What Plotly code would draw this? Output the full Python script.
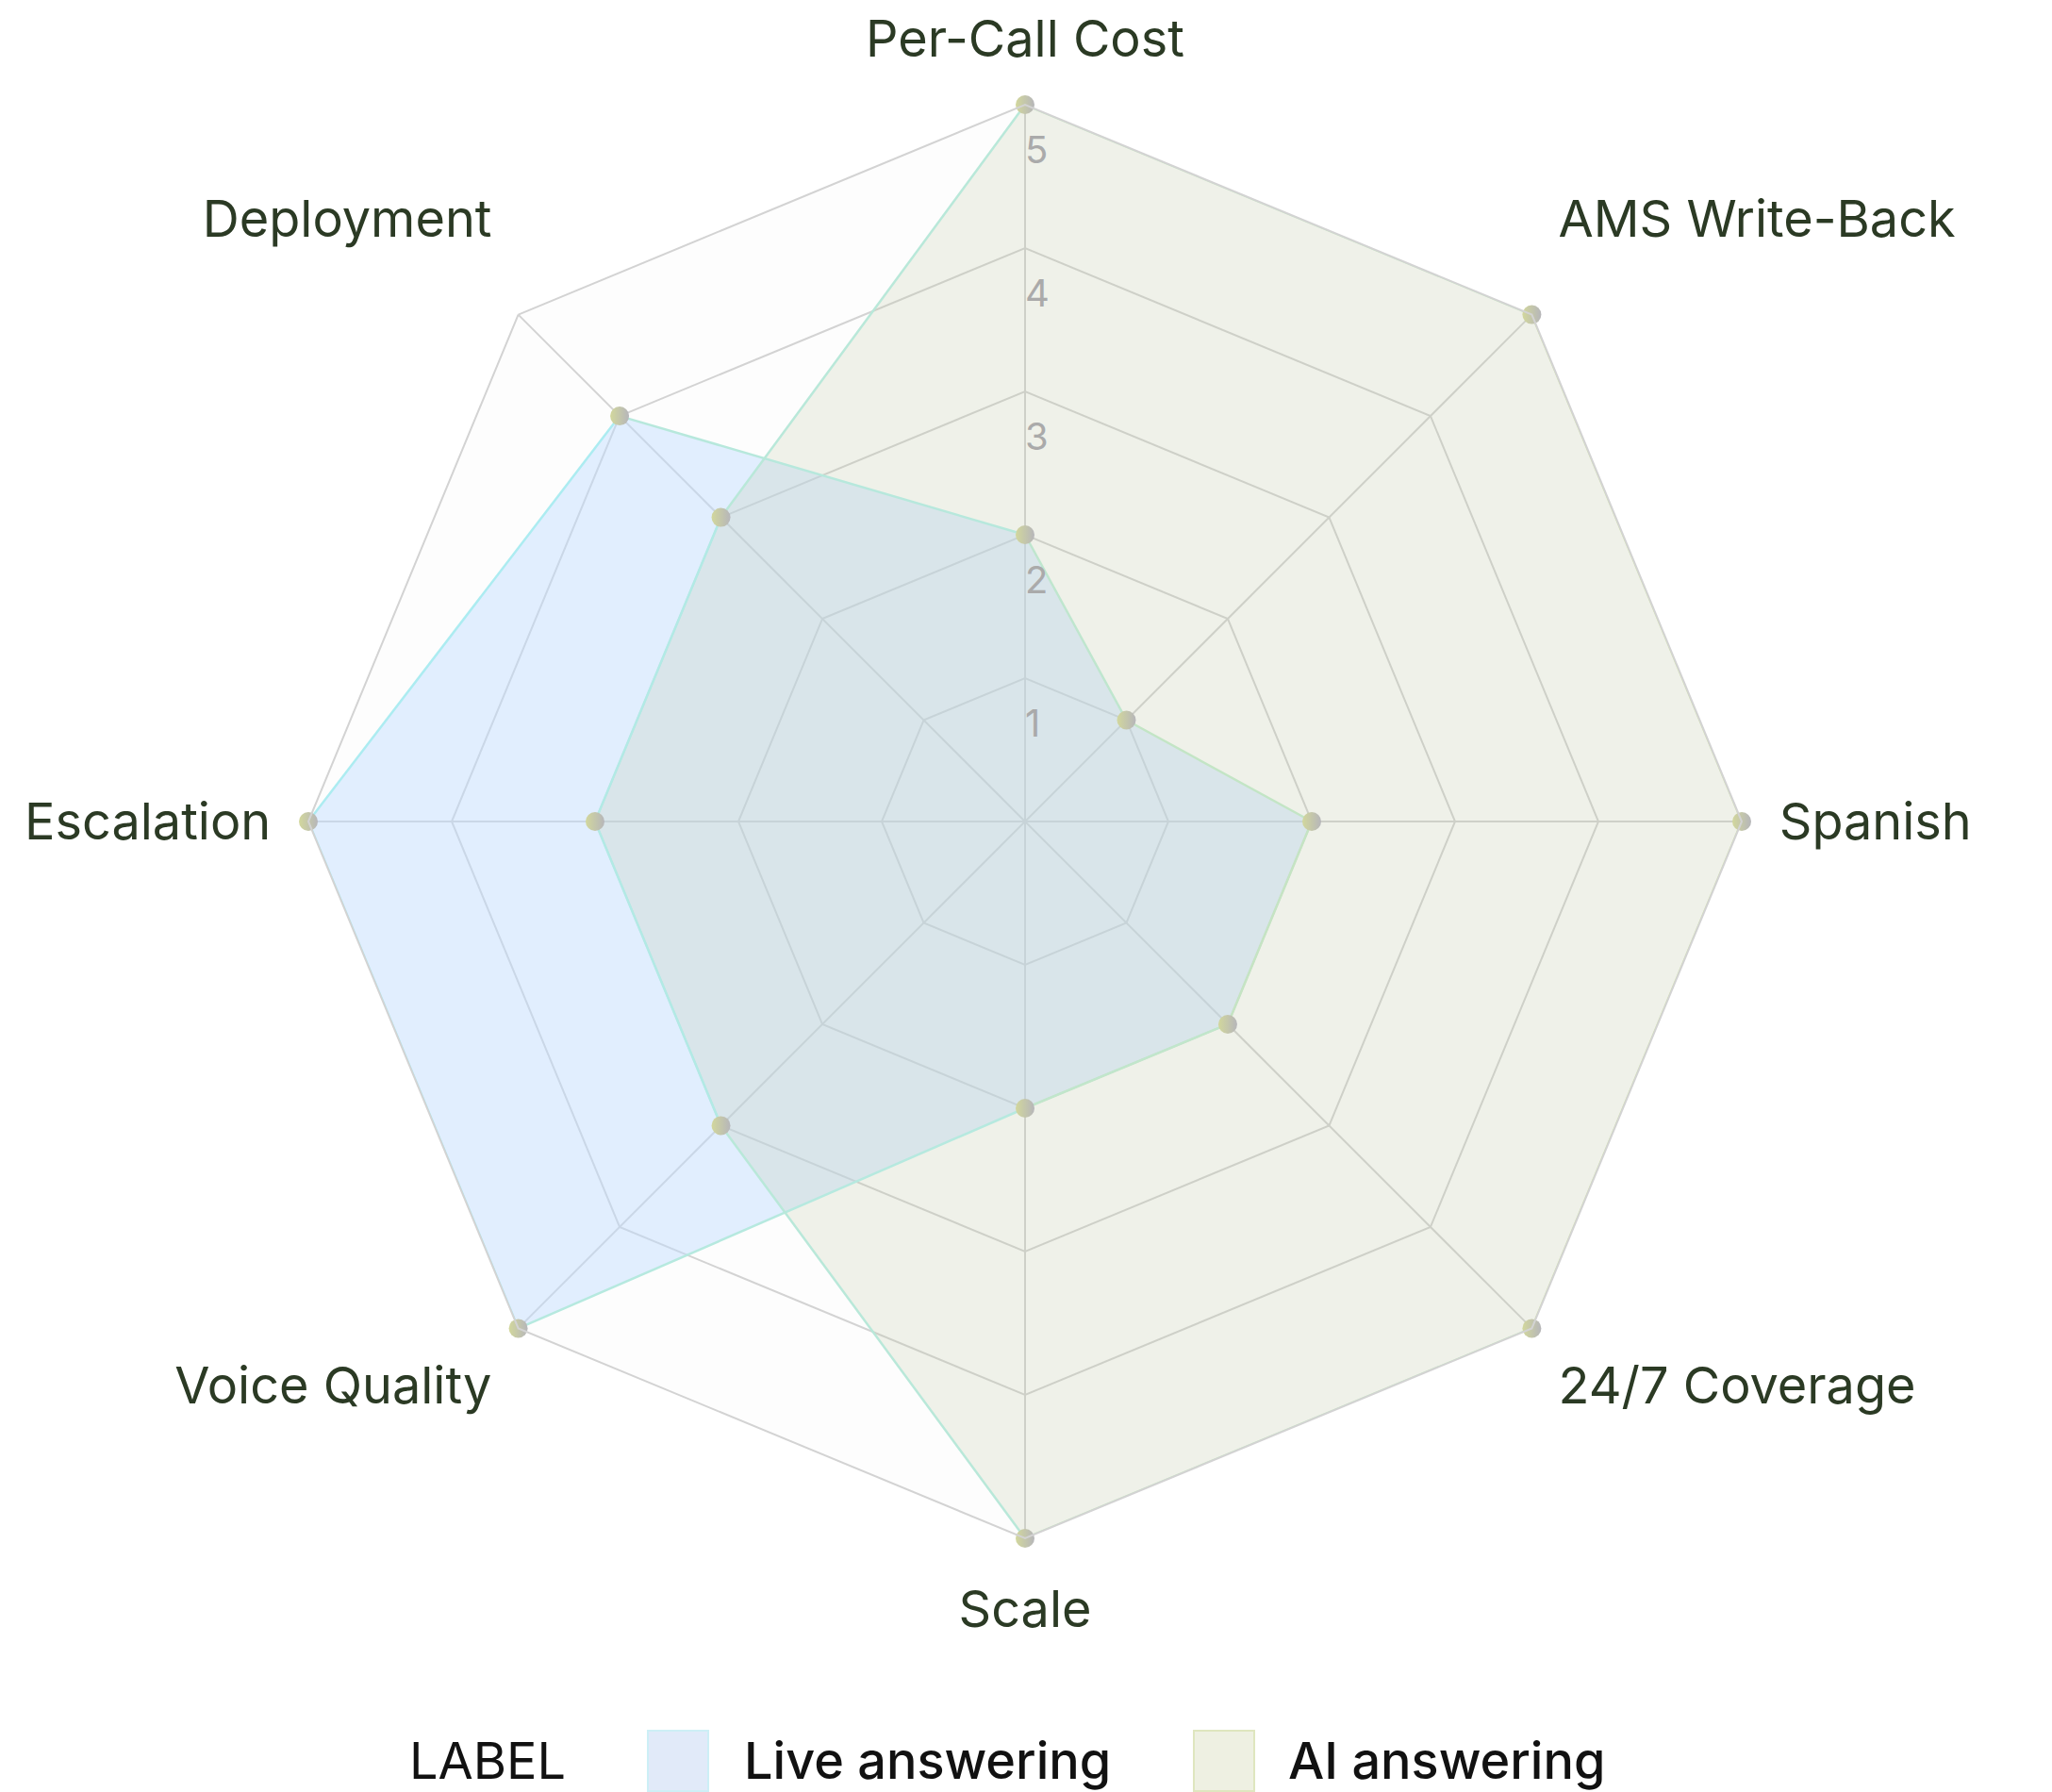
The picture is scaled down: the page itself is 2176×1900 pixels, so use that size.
import plotly.graph_objects as go
import numpy as np

# ---- data ----
categories = ["Per-Call Cost", "AMS Write-Back", "Spanish", "24/7 Coverage",
              "Scale", "Voice Quality", "Escalation", "Deployment"]
live_values = [2, 1, 2, 2, 2, 5, 5, 4]
ai_values = [5, 5, 5, 5, 5, 3, 3, 3]
radial_ticks = [1, 2, 3, 4, 5]
series_names = ["Live answering", "AI answering"]
legend_title = "LABEL"

# ---- styles ----
FONT = "Inter"
fill_colors = ["rgba(191,219,254,0.45)", "rgba(190,200,165,0.22)"]
swatch_fill = ["#e1eaf9", "#eef0e2"]
swatch_line = ["#cdeff6", "#dfe6bf"]
stroke_left = np.array([168, 238, 250])
stroke_right = np.array([212, 224, 168])
label_color = "#2b3a24"
grid_color = "#d3d3d3"

fig = go.Figure()


def angle_of(i):
    # clockwise from top
    return np.deg2rad(90 - i * 360 / len(categories))


def seg_color(xmid):
    t = (xmid + 1) / 2
    c = stroke_left * (1 - t) + stroke_right * t
    return "rgb(%d,%d,%d)" % tuple(c.astype(int))


for name, vals, fc in zip(series_names, [live_values, ai_values], fill_colors):
    closed_theta = categories + [categories[0]]
    closed_r = vals + [vals[0]]
    fig.add_trace(go.Scatterpolar(
        r=closed_r, theta=closed_theta, mode="none", fill="toself",
        fillcolor=fc, name=name, showlegend=False, hoverinfo="skip"))

for name, vals in zip(series_names, [live_values, ai_values]):
    n = len(categories)
    for i in range(n):
        j = (i + 1) % n
        xm = (vals[i] * np.cos(angle_of(i)) + vals[j] * np.cos(angle_of(j))) / 2 / 5
        fig.add_trace(go.Scatterpolar(
            r=[vals[i], vals[j]], theta=[categories[i], categories[j]],
            mode="lines", line=dict(color=seg_color(xm), width=2.5),
            showlegend=False, hoverinfo="skip"))

for name, vals in zip(series_names, [live_values, ai_values]):
    fig.add_trace(go.Scatterpolar(
        r=vals, theta=categories, mode="markers", name=name,
        marker=dict(size=20, color="#d2d79c",
                    gradient=dict(type="horizontal", color="#b6b6ba"),
                    line=dict(width=0)),
        showlegend=False))

# radial tick labels
fig.add_trace(go.Scatterpolar(
    r=radial_ticks, theta=[categories[0]] * len(radial_ticks),
    mode="text", text=["<br><br>%d" % t for t in radial_ticks],
    textposition="middle right",
    textfont=dict(family=FONT, size=40, color="#aaaaaa"),
    showlegend=False, hoverinfo="skip"))

# angular labels: upper diagonal labels sit a little higher in the reference
tick_text = []
for i, c in enumerate(categories):
    a = angle_of(i)
    if np.sin(a) > 0.3 and abs(np.cos(a)) > 0.3:
        tick_text.append(c + "<br> ")
    else:
        tick_text.append(c)

fig.update_layout(
    width=2176, height=1900,
    paper_bgcolor="white",
    margin=dict(l=327, r=329, t=111, b=269),
    font=dict(family=FONT),
    showlegend=False,
    polar=dict(
        domain=dict(x=[0, 1], y=[0, 1]),
        bgcolor="#fdfdfd",
        gridshape="linear",
        radialaxis=dict(range=[0, 5], tickvals=radial_ticks, showticklabels=False,
                        ticks="", showline=False, gridcolor=grid_color, gridwidth=2,
                        angle=90),
        angularaxis=dict(direction="clockwise", rotation=90,
                         categoryorder="array", categoryarray=categories,
                         tickmode="array", tickvals=categories, ticktext=tick_text,
                         gridcolor=grid_color, gridwidth=2,
                         showline=True, linecolor=grid_color, linewidth=2,
                         ticks="outside", ticklen=28, tickcolor="rgba(0,0,0,0)",
                         tickfont=dict(family=FONT, size=54, color=label_color)),
    ),
)

# ---- custom legend (pixel positions converted to paper coordinates) ----
W, H = 2176, 1900
ML, MR, MT, MB = 327, 329, 111, 269
pw, ph = W - ML - MR, H - MT - MB


def px_x(x):
    return (x - ML) / pw


def px_y(y):
    return (H - MB - y) / ph


legend_y = 1866
fig.add_annotation(x=px_x(432), y=px_y(legend_y), xref="paper", yref="paper",
                   text=legend_title, showarrow=False, xanchor="left", yanchor="middle",
                   font=dict(family=FONT, size=54, color="#111111"))
sw_x = [687, 1266]
txt_x = [787, 1364]
for k, name in enumerate(series_names):
    x0 = sw_x[k]
    fig.add_shape(type="rect", xref="paper", yref="paper",
                  x0=px_x(x0), x1=px_x(x0 + 64), y0=px_y(1835), y1=px_y(1899),
                  fillcolor=swatch_fill[k], line=dict(color=swatch_line[k], width=2))
    fig.add_annotation(x=px_x(txt_x[k]), y=px_y(legend_y), xref="paper", yref="paper",
                       text=name, showarrow=False, xanchor="left", yanchor="middle",
                       font=dict(family=FONT, size=54, color="#111111", weight=500))

fig.write_html("out.html")
